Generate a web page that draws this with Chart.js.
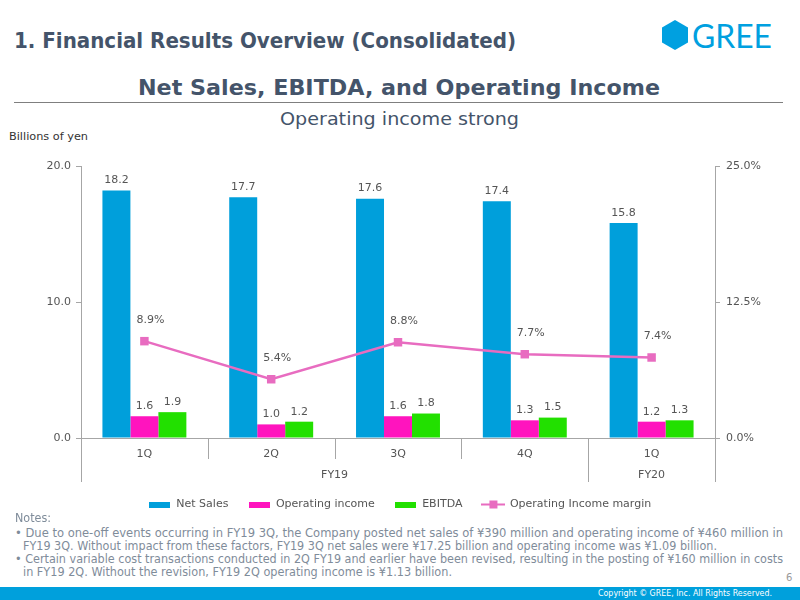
<!DOCTYPE html>
<html>
<head>
<meta charset="utf-8">
<script src="https://cdn.jsdelivr.net/npm/chart.js@4"></script>
<style>
  html, body { margin:0; padding:0; background:#fff; }
  body { width:800px; height:600px; position:relative; overflow:hidden; font-family:"DejaVu Sans", Verdana, sans-serif; }
  .t { position:absolute; white-space:nowrap; display:inline-block; transform-origin:left center; line-height:1; }
  .n { font-size:11.5px; font-family:'DejaVu Sans', Verdana, sans-serif; color:#7F8C9A; }
  #chartWrap { position:absolute; left:0; top:140px; width:800px; height:380px; }
</style>
</head>
<body>
<script>
// ---------- DATA ----------
const quarters = ['1Q', '2Q', '3Q', '4Q', '1Q'];
const fiscalYearLabels = ['FY19', 'FY20'];
const fiscalYearSpans = [4, 1];
const netSales = [18.2, 17.7, 17.6, 17.4, 15.8];
const operatingIncome = [1.6, 1.0, 1.6, 1.3, 1.2];
const ebitda = [1.9, 1.2, 1.8, 1.5, 1.3];
const operatingMargin = [8.9, 5.4, 8.8, 7.7, 7.4];
const leftTicks = [0, 10, 20];
const rightTicks = [0, 12.5, 25];
const seriesNames = ['Net Sales', 'Operating income', 'EBITDA', 'Operating Income margin'];
</script>

<div class="t" id="title1" style="left:14px; top:31px; font-size:21px; font-weight:bold; color:#44546A;">1. Financial Results Overview (Consolidated)</div>
<svg style="position:absolute; left:660px; top:19px;" width="32" height="32">
  <polygon points="15,1 28,8.5 28,23.5 15,31 2,23.5 2,8.5" fill="#00A0E0"/>
</svg>
<div class="t" id="logo" style="left:692px; top:19px; font-size:33px; font-family:Lato, 'DejaVu Sans', sans-serif; color:#00A0E0;">GREE</div>
<div class="t" id="title2" style="left:138px; top:77px; font-size:22px; font-weight:bold; color:#44546A;">Net Sales, EBITDA, and Operating Income</div>
<div style="position:absolute; left:14px; top:102px; width:769px; height:1px; background:#7f7f7f;"></div>
<div class="t" id="subtitle" style="left:280px; top:111px; font-size:17px; color:#44546A;">Operating income strong</div>
<div class="t" id="unit" style="left:9px; top:131px; font-size:11px; color:#333;">Billions of yen</div>

<div id="chartWrap"><canvas id="c" width="800" height="380"></canvas></div>

<div class="t n" id="n0" style="left:15px; top:513px;">Notes:</div>
<div class="t n" id="n1" style="left:15px; top:528px;">• Due to one-off events occurring in FY19 3Q, the Company posted net sales of ¥390 million and operating income of ¥460 million in</div>
<div class="t n" id="n2" style="left:23px; top:541px;">FY19 3Q. Without impact from these factors, FY19 3Q net sales were ¥17.25 billion and operating income was ¥1.09 billion.</div>
<div class="t n" id="n3" style="left:15px; top:554px;">• Certain variable cost transactions conducted in 2Q FY19 and earlier have been revised, resulting in the posting of ¥160 million in costs</div>
<div class="t n" id="n4" style="left:23px; top:567px;">in FY19 2Q. Without the revision, FY19 2Q operating income is ¥1.13 billion.</div>
<div class="t" id="page" style="left:786px; top:573px; font-size:10px; color:#999;">6</div>
<div style="position:absolute; left:0; top:587px; width:800px; height:13px; background:#00A0DC;"></div>
<div class="t" id="copy" style="left:598px; top:589px; font-size:9px; color:#fff;">Copyright © GREE, Inc. All Rights Reserved.</div>

<script>
function fit(id, w) {
  const el = document.getElementById(id);
  const a = el.getBoundingClientRect().width;
  el.style.transform = 'scaleX(' + (w / a) + ')';
}
fit('title1', 502);
fit('logo', 80);
fit('title2', 522);
fit('subtitle', 239);
fit('unit', 79);
fit('n0', 36);
fit('n1', 768);
fit('n2', 694);
fit('n3', 768);
fit('n4', 429);
fit('copy', 174);

const colors = ['#009FDB', '#FF14BE', '#22E000', '#E86CC0'];
const labelColor = '#555555';
const axisColor = '#A6A6A6';

function boxImg(color) {
  const cv = document.createElement('canvas');
  cv.width = 21; cv.height = 6;
  const g = cv.getContext('2d');
  g.fillStyle = color; g.fillRect(0, 0, 21, 6);
  return cv;
}
function lineImg(color) {
  const cv = document.createElement('canvas');
  cv.width = 24; cv.height = 9;
  const g = cv.getContext('2d');
  g.fillStyle = color; g.fillRect(0, 3.5, 24, 2);
  g.fillRect(8, 0.5, 8, 8);
  return cv;
}
const legendImgs = [boxImg(colors[0]), boxImg(colors[1]), boxImg(colors[2]), lineImg(colors[3])];

Chart.defaults.font.family = "'DejaVu Sans', Verdana, sans-serif";
Chart.defaults.font.size = 11;
Chart.defaults.color = labelColor;

const slideAxis = {
  id: 'slideAxis',
  beforeDatasetsDraw(chart) {
    const ctx = chart.ctx, xs = chart.scales.x, area = chart.chartArea;
    const n = quarters.length;
    const slot = (xs.right - xs.left) / n;
    ctx.save();
    ctx.strokeStyle = axisColor; ctx.lineWidth = 1;
    ctx.beginPath();
    ctx.moveTo(xs.left, Math.round(area.bottom) + 0.5);
    ctx.lineTo(xs.right, Math.round(area.bottom) + 0.5);
    ctx.stroke();
    const groupBounds = [0];
    let acc = 0;
    fiscalYearSpans.forEach(s => { acc += s; groupBounds.push(acc); });
    for (let b = 0; b <= n; b++) {
      const x = Math.round(xs.left + b * slot) + 0.5;
      const isGroup = groupBounds.includes(b);
      ctx.beginPath();
      ctx.moveTo(x, area.bottom);
      ctx.lineTo(x, area.bottom + (isGroup ? 44 : 21));
      ctx.stroke();
    }
    ctx.fillStyle = labelColor;
    ctx.font = "11px 'DejaVu Sans', Verdana, sans-serif";
    ctx.textAlign = 'center'; ctx.textBaseline = 'middle';
    quarters.forEach((q, i) => {
      ctx.fillText(q, xs.getPixelForValue(i), area.bottom + 16);
    });
    let start = 0;
    fiscalYearLabels.forEach((fy, g) => {
      const end = start + fiscalYearSpans[g];
      const cx = xs.left + (start + end) / 2 * slot;
      ctx.fillText(fy, cx, area.bottom + 37);
      start = end;
    });
    ctx.restore();
  },
  afterDatasetsDraw(chart) {
    const ctx = chart.ctx;
    ctx.save();
    ctx.fillStyle = labelColor;
    ctx.font = "11px 'DejaVu Sans', Verdana, sans-serif";
    ctx.textAlign = 'center'; ctx.textBaseline = 'middle';
    chart.data.datasets.forEach((ds, di) => {
      const meta = chart.getDatasetMeta(di);
      meta.data.forEach((el, i) => {
        const v = ds.data[i];
        if (ds.type === 'line') {
          ctx.fillText(v.toFixed(1) + '%', el.x + 6, el.y - 21);
        } else {
          ctx.fillText(v.toFixed(1), el.x, el.y - 10);
        }
      });
    });
    ctx.restore();
  }
};

new Chart(document.getElementById('c'), {
  data: {
    labels: quarters,
    datasets: [
      { type: 'bar', label: seriesNames[0], data: netSales, backgroundColor: colors[0], yAxisID: 'y', order: 1 },
      { type: 'bar', label: seriesNames[1], data: operatingIncome, backgroundColor: colors[1], yAxisID: 'y', order: 1 },
      { type: 'bar', label: seriesNames[2], data: ebitda, backgroundColor: colors[2], yAxisID: 'y', order: 1 },
      { type: 'line', label: seriesNames[3], data: operatingMargin, borderColor: colors[3], backgroundColor: colors[3],
        borderWidth: 2.5, pointStyle: 'rect', pointRadius: 6, pointBackgroundColor: colors[3], pointBorderWidth: 0,
        tension: 0, yAxisID: 'y2', order: 0 }
    ]
  },
  options: {
    responsive: false,
    animation: false,
    layout: { padding: { top: 26, left: 0, right: 0, bottom: 0 } },
    datasets: { bar: { categoryPercentage: 0.662, barPercentage: 1.0 } },
    plugins: {
      tooltip: { enabled: false },
      legend: {
        position: 'bottom',
        labels: {
          usePointStyle: true,
          pointStyleWidth: 22,
          padding: 20,
          color: labelColor,
          font: { size: 11 },
          sort: (a, b) => a.datasetIndex - b.datasetIndex,
          generateLabels: (chart) => chart.data.datasets.map((ds, i) => ({
            text: ds.label, fillStyle: colors[i], strokeStyle: colors[i], lineWidth: 0,
            pointStyle: legendImgs[i], datasetIndex: i, hidden: false, fontColor: labelColor
          }))
        }
      }
    },
    scales: {
      x: {
        type: 'category', offset: true,
        grid: { display: false }, border: { display: false },
        ticks: { display: false },
        afterFit: s => { s.height = 41; }
      },
      y: {
        position: 'left', min: 0, max: 20,
        afterBuildTicks: s => { s.ticks = leftTicks.map(v => ({ value: v })); },
        afterFit: s => { s.width = 81; },
        grid: { drawOnChartArea: false, drawTicks: true, tickLength: 5, color: axisColor },
        border: { display: true, color: axisColor },
        ticks: { padding: 5, color: labelColor, callback: v => Number(v).toFixed(1) }
      },
      y2: {
        position: 'right', min: 0, max: 25,
        afterBuildTicks: s => { s.ticks = rightTicks.map(v => ({ value: v })); },
        afterFit: s => { s.width = 85; },
        grid: { drawOnChartArea: false, drawTicks: true, tickLength: 5, color: axisColor },
        border: { display: true, color: axisColor },
        ticks: { padding: 6, color: labelColor, callback: v => Number(v).toFixed(1) + '%' }
      }
    }
  },
  plugins: [slideAxis]
});
</script>
</body>
</html>
